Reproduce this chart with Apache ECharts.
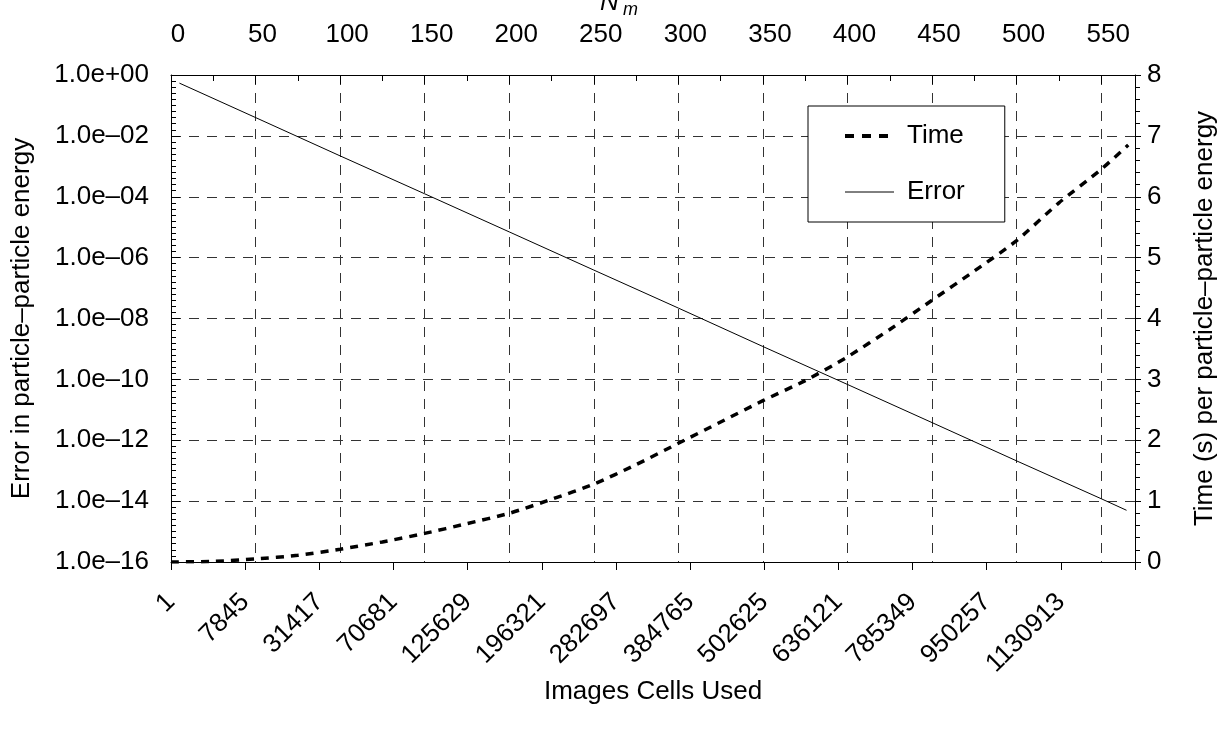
<!DOCTYPE html>
<html>
<head>
<meta charset="utf-8">
<script src="https://cdn.jsdelivr.net/npm/echarts@6/dist/echarts.min.js"></script>
<style>
html,body{margin:0;padding:0;background:#fff;}
#chart{width:1226px;height:735px;}
</style>
</head>
<body>
<div id="chart"></div>
<script>
// Bottom axis tick labels (Images Cells Used)
var cellLabels = ['1','7845','31417','70681','125629','196321','282697','384765','502625','636121','785349','950257','1130913',''];
// Time series (N_m vs seconds)
var timeN = [0,25,50,75,100,125,150,175,200,225,250,275,300,325,350,375,400,425,450,475,500,525,550,566];
var timeValues = [0,0.01,0.05,0.11,0.21,0.33,0.47,0.63,0.8,1.03,1.28,1.6,1.95,2.3,2.65,2.98,3.37,3.82,4.3,4.78,5.28,5.9,6.45,6.85];
// Error series (N_m vs error)
var errorN = [5,50,100,150,200,250,300,350,400,450,500,550,565];
var errorValues = [5.4e-1,4.0e-2,2.2e-3,1.25e-4,7.0e-6,3.9e-7,2.2e-8,1.2e-9,6.8e-11,3.8e-12,2.1e-13,1.2e-14,5.0e-15];

var FONT = "'Liberation Sans', Arial, Helvetica, sans-serif";
var FS = 26;

function zip(a,b){ return a.map(function(v,i){ return [v,b[i]]; }); }
// error axis works in decades (exponent of ten)
function expLabel(e){
  e = Math.round(e);
  var s = Math.abs(e) < 10 ? '0' + Math.abs(e) : '' + Math.abs(e);
  return '1.0e' + (e < 0 ? '\u2013' : '+') + s;
}

var chart = echarts.init(document.getElementById('chart'), null, {renderer:'canvas'});
var option = {
  backgroundColor: '#fff',
  animation: false,
  textStyle: {fontFamily: FONT, color: '#000'},
  grid: {left: 171, right: 91, top: 75, bottom: 173, containLabel: false, outerBoundsMode: 'none'},
  legend: {
    orient: 'vertical',
    left: 808, top: 106,
    padding: [17, 40, 17, 35],
    itemGap: 30,
    itemWidth: 49, itemHeight: 24,
    backgroundColor: '#fff',
    borderColor: '#000', borderWidth: 1, borderRadius: 0,
    itemStyle: {opacity: 0},
    textStyle: {fontFamily: FONT, fontSize: FS, color: '#000', padding: [0,0,0,8]},
    data: [
      {name: 'Time', lineStyle: {color: '#000', width: 4, type: [9, 8]}},
      {name: 'Error', lineStyle: {color: '#000', width: 1, type: 'solid'}}
    ]
  },
  xAxis: [
    {
      type: 'value', position: 'top', min: 0, max: 570, interval: 50,
      name: '{n|N}{m|m}', nameLocation: 'middle', nameGap: 56, nameMoveOverlap: false,
      nameTextStyle: {padding: [0, 68, 0, 0], rich: {
        n: {fontFamily: FONT, fontStyle: 'italic', fontSize: FS, color:'#000'},
        m: {fontFamily: FONT, fontStyle: 'italic', fontSize: 18, color:'#000', padding: [14,0,0,4]}
      }},
      axisLine: {show: true, lineStyle: {color: '#000', width: 1}},
      axisTick: {show: true, inside: true, length: 9, lineStyle: {color:'#000'}},
      minorTick: {show: true, splitNumber: 2, length: 6, lineStyle: {color:'#000'}},
      axisLabel: {fontFamily: FONT, fontSize: FS, color: '#000', margin: 27, showMaxLabel: false, padding: [0,0,0,14]},
      splitLine: {show: true, showMinLine: false, showMaxLine: false, lineStyle: {color: '#333', width: 1, type: [10, 8]}}
    },
    {
      type: 'category', position: 'bottom', data: cellLabels, boundaryGap: false,
      name: 'Images Cells Used', nameLocation: 'middle', nameGap: 117, nameMoveOverlap: false,
      nameTextStyle: {fontFamily: FONT, fontSize: FS, color: '#000'},
      axisLine: {show: true, lineStyle: {color: '#000', width: 1}},
      axisTick: {show: true, inside: false, length: 8, interval: 0, lineStyle: {color:'#000'}},
      axisLabel: {fontFamily: FONT, fontSize: FS, color: '#000', rotate: 45, interval: 0, margin: 36},
      splitLine: {show: false}
    }
  ],
  yAxis: [
    {
      type: 'value', min: -16, max: 0, interval: 2, position: 'left',
      name: 'Error in particle\u2013particle energy', nameLocation: 'middle', nameGap: 136, nameRotate: 90, nameMoveOverlap: false,
      nameTextStyle: {fontFamily: FONT, fontSize: FS, color: '#000'},
      axisLine: {show: true, lineStyle: {color: '#000', width: 1}},
      axisTick: {show: true, inside: true, length: 9, lineStyle: {color:'#000'}},
      minorTick: {show: true, splitNumber: 10, length: 5, lineStyle: {color:'#000'}},
      axisLabel: {fontFamily: FONT, fontSize: FS, color: '#000', margin: 22, formatter: expLabel},
      splitLine: {show: true, showMinLine: false, showMaxLine: false, lineStyle: {color: '#333', width: 1, type: [10, 8]}}
    },
    {
      type: 'value', min: 0, max: 8, interval: 1, position: 'right',
      name: 'Time (s) per particle\u2013particle energy', nameLocation: 'middle', nameGap: 57, nameRotate: 90, nameMoveOverlap: false,
      nameTextStyle: {fontFamily: FONT, fontSize: FS, color: '#000'},
      axisLine: {show: true, lineStyle: {color: '#000', width: 1}},
      axisTick: {show: true, inside: false, length: 6, lineStyle: {color:'#000'}},
      minorTick: {show: true, splitNumber: 5, length: 5, lineStyle: {color:'#000'}},
      axisLabel: {fontFamily: FONT, fontSize: FS, color: '#000', margin: 12},
      splitLine: {show: false}
    }
  ],
  series: [
    {
      name: 'Time', type: 'line', xAxisIndex: 0, yAxisIndex: 1,
      data: zip(timeN, timeValues), symbol: 'none', smooth: 0.25,
      lineStyle: {color: '#000', width: 3.5, type: [8, 7]},
      itemStyle: {color: '#000'}, z: 5
    },
    {
      name: 'Error', type: 'line', xAxisIndex: 0, yAxisIndex: 0,
      data: errorN.map(function(n, i){ return [n, Math.log10(errorValues[i])]; }), symbol: 'none',
      lineStyle: {color: '#000', width: 1, type: 'solid'},
      itemStyle: {color: '#000'}, z: 5
    }
  ]
};
chart.setOption(option);
</script>
</body>
</html>
